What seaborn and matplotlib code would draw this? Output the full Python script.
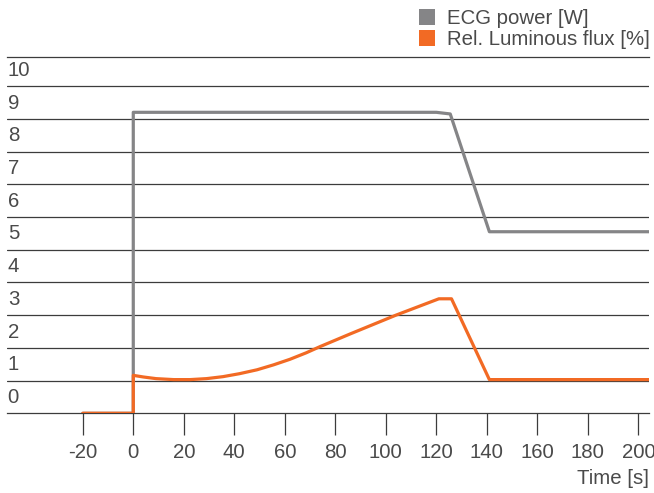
import matplotlib
matplotlib.use("Agg")
import matplotlib.pyplot as plt
import seaborn as sns
import pandas as pd
from matplotlib.patches import Patch

# ---- data ----
ecg_time = [-20, 0, 0, 120, 125.5, 141, 205]
ecg_power = [0, 0, 9.2, 9.2, 9.15, 5.55, 5.55]

flux_time = [-20, 0, 0, 4, 9, 16, 22.5, 29, 35.5, 42, 49, 55.5, 62, 68.5,
             74, 86, 104, 121, 126, 141, 205]
flux_value = [0, 0, 1.16, 1.11, 1.06, 1.03, 1.03, 1.06, 1.12, 1.21, 1.33, 1.48,
              1.65, 1.85, 2.04, 2.43, 3.0, 3.5, 3.5, 1.03, 1.03]

x_ticks = [-20, 0, 20, 40, 60, 80, 100, 120, 140, 160, 180, 200]
y_ticks = [0, 1, 2, 3, 4, 5, 6, 7, 8, 9, 10]
y_labels = ["0", "1", "2", "3", "4", "5", "6", "7", "8", "9", "10"]
series_names = ["ECG power [W]", "Rel. Luminous flux [%]"]
x_label = "Time [s]"

GRAY = "#858587"
ORANGE = "#f26a24"
TEXT = "#4a4a4a"
GRID = "#3c3c3c"
FS = 14.7

sns.set_theme(style="white")
plt.rcParams["font.family"] = ["Liberation Sans", "DejaVu Sans"]

df_ecg = pd.DataFrame({"t": ecg_time, "v": ecg_power})
df_flux = pd.DataFrame({"t": flux_time, "v": flux_value})

fig = plt.figure(figsize=(6.54, 4.93), dpi=100)
ax = fig.add_axes([7 / 654, 1 - 413.3 / 493, (649 - 7) / 654, (413.3 - 56.7) / 493])

sns.lineplot(data=df_ecg, x="t", y="v", ax=ax, estimator=None, sort=False,
             color=GRAY, linewidth=2.3, zorder=3)
sns.lineplot(data=df_flux, x="t", y="v", ax=ax, estimator=None, sort=False,
             color=ORANGE, linewidth=2.3, zorder=4)

ax.set_xlim(-50, 204.2)
ax.set_ylim(0, 10.9)

# horizontal grid lines
for y in y_ticks[1:]:
    ax.axhline(y, color=GRID, linewidth=0.9, zorder=1)

for s in ["left", "right"]:
    ax.spines[s].set_visible(False)
for s in ["top", "bottom"]:
    ax.spines[s].set_visible(True)
    ax.spines[s].set_color(GRID)
    ax.spines[s].set_linewidth(0.9)

ax.set_yticks([])
ax.set_xticks(x_ticks)
ax.set_xticklabels([str(v) for v in x_ticks])
ax.tick_params(axis="x", direction="out", length=16, width=0.9, color=GRID,
               labelsize=FS, labelcolor=TEXT, pad=5.5, bottom=True)
ax.set_xlabel("")
ax.set_ylabel("")

# y labels sit just above their grid line, inside the plot at the left
for y, lab in zip(y_ticks, y_labels):
    ax.annotate(lab, xy=(0, y), xycoords=("axes fraction", "data"),
                xytext=(0.5, 4.5), textcoords="offset points",
                ha="left", va="bottom", fontsize=FS, color=TEXT)

fig.text(649 / 654, 1 - 478 / 493, x_label, ha="right", va="center",
         fontsize=FS, color=TEXT)

handles = [Patch(facecolor=GRAY, edgecolor="none"),
           Patch(facecolor=ORANGE, edgecolor="none")]
leg = fig.legend(handles, series_names, loc="upper right",
                 bbox_to_anchor=(650 / 654, 1 - 9 / 493),
                 bbox_transform=fig.transFigure, frameon=False,
                 fontsize=FS, handlelength=0.78, handleheight=0.78,
                 handletextpad=0.6, labelspacing=0.1, borderpad=0,
                 borderaxespad=0)
for t in leg.get_texts():
    t.set_color(TEXT)

fig.savefig("out.png", dpi=100)
